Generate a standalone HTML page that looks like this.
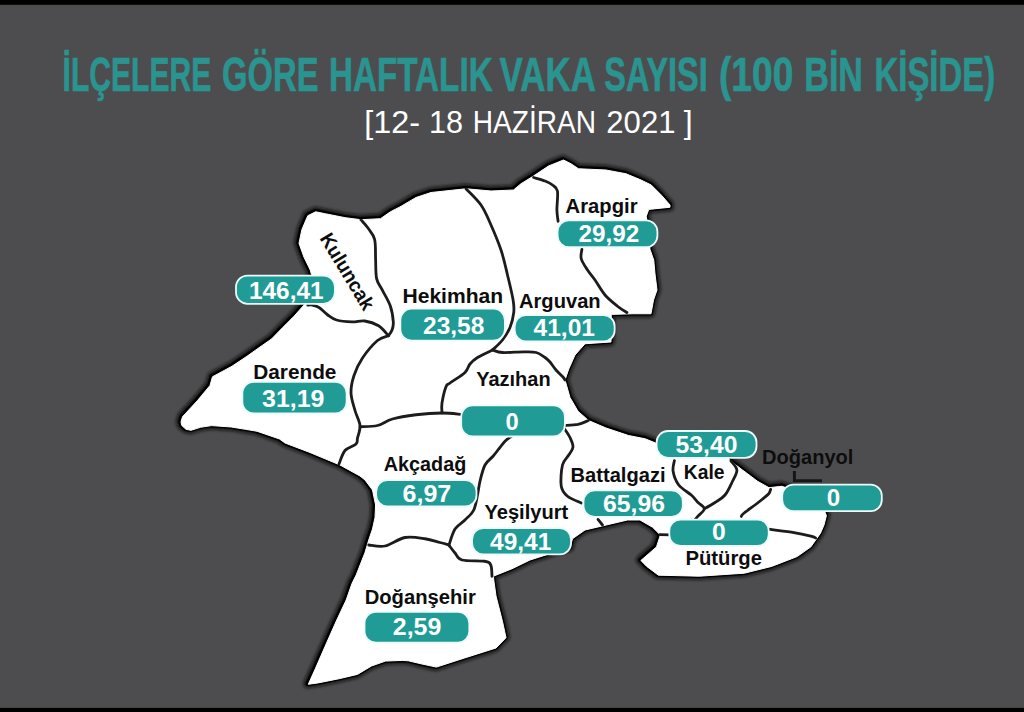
<!DOCTYPE html>
<html lang="tr"><head><meta charset="utf-8"><title>İlçelere Göre Haftalık Vaka Sayısı</title>
<style>
html,body{margin:0;padding:0;background:#4d4d4f;}
body{width:1024px;height:712px;overflow:hidden;}
svg{display:block;}
text{font-family:"Liberation Sans","DejaVu Sans",sans-serif;}
.lbl{font-weight:bold;fill:#0d0d0d;font-size:20.0px;}
.val{font-weight:bold;fill:#ffffff;font-size:24.2px;}
</style></head><body>
<svg width="1024" height="712" viewBox="0 0 1024 712">
<defs>
<filter id="sh" x="-5%" y="-5%" width="110%" height="110%"><feGaussianBlur stdDeviation="1.5"/></filter>
<filter id="sh2" x="-5%" y="-5%" width="110%" height="110%"><feGaussianBlur stdDeviation="0.6"/></filter>
</defs>
<rect x="0" y="0" width="1024" height="712" fill="#4d4d4f"/>
<rect x="0" y="0" width="1024" height="4.8" fill="#000000"/>
<rect x="0" y="707.9" width="1024" height="4.1" fill="#000000"/>

<g font-size="49.0" font-weight="bold" fill="#2a9490" stroke="#2a9490" stroke-width="0.7">
<text x="62.60" y="91.2" textLength="148.70" lengthAdjust="spacingAndGlyphs">İLÇELERE</text>
<text x="222.10" y="91.2" textLength="96.39" lengthAdjust="spacingAndGlyphs">GÖRE</text>
<text x="328.90" y="91.2" textLength="163.80" lengthAdjust="spacingAndGlyphs">HAFTALIK</text>
<text x="499.50" y="91.2" textLength="96.38" lengthAdjust="spacingAndGlyphs">VAKA</text>
<text x="604.30" y="91.2" textLength="103.47" lengthAdjust="spacingAndGlyphs">SAYISI</text>
<text x="718.90" y="91.2" textLength="74.46" lengthAdjust="spacingAndGlyphs">(100</text>
<text x="804.30" y="91.2" textLength="58.67" lengthAdjust="spacingAndGlyphs">BİN</text>
<text x="874.50" y="91.2" textLength="120.62" lengthAdjust="spacingAndGlyphs">KİŞİDE)</text>
</g>
<g font-size="30.5" fill="#ffffff">
<text x="364.20" y="133.1" textLength="55.74" lengthAdjust="spacingAndGlyphs">[12-</text>
<text x="429.00" y="133.1" textLength="34.07" lengthAdjust="spacingAndGlyphs">18</text>
<text x="472.75" y="133.1" textLength="123.23" lengthAdjust="spacingAndGlyphs">HAZİRAN</text>
<text x="606.30" y="133.1" textLength="69.19" lengthAdjust="spacingAndGlyphs">2021</text>
<text x="683.70" y="133.1" textLength="8.93" lengthAdjust="spacingAndGlyphs">]</text>
</g>
<path d="M315.7 211.8 L325.5 213.8 L345.2 217.7 L360.9 219.7 L380.5 218.7 L390.4 211.8 L400 206.9 L416 197.5 L431 192.5 L466 188.75 L491 191 L513.5 190 L521 183.75 L533.5 176 L548.5 166 L563.5 160 L571 163.75 L578.5 168.75 L606 170 L626 173.75 L641 180 L651.25 185 L661.25 195 L670 205 L670 207.25 L648.75 209.4 L646.25 216.25 L647 221 L650 249.4 L653.75 260 L655 274 L657 290 L653.5 300 L651 313.75 L633 313.75 L611.25 314.4 L611 342 L585 343.75 L575 355 L568.75 369 L565 380 L570 397.5 L578 411.25 L588.5 420.5 L606 428 L628.5 435.5 L645 438.75 L655.6 443 L660 447 L700 446 L728 458 L730 460.6 L742.5 470 L757.5 481.25 L769 487.7 L781.7 486.3 L800 492 L822 505 L826.4 515.6 L824 525 L820.5 533.2 L810.8 546.9 L797.1 556.6 L771.7 566.4 L744.4 573.2 L699.5 576.2 L658.4 575.2 L646.7 566.4 L640.9 560.5 L656.5 546.9 L660.4 535 L652.6 527.3 L640 520 L627.5 520 L606.25 525 L585 530 L572.5 538.75 L570 548 L552 553 L530 560 L512 568.75 L493.25 576.25 L496 596 L502.5 621.5 L506 637.75 L496 648 L464.5 658 L436.4 667.1 L422 664 L408.25 660.8 L402.4 660.4 L385.5 661.1 L371.5 666 L357.4 674.4 L339.2 678.7 L318.1 682.9 L308.3 684.3 L315.3 668.8 L325.1 646.3 L336.3 621 L346.2 600 L352 583.4 L356.2 575 L365 552.5 L368.75 540 L372.5 529 L375 517.5 L375.6 505 L372.5 490 L365 480 L360 476 L340 465 L310 452.5 L285 443 L279.5 439 L257 431.25 L245.4 429.3 L231.2 427 L211.5 425.6 L200.5 427.3 L191 430.3 L186 429.3 L181.8 425.5 L181 422 L182.5 416.75 L197.5 400.5 L210 385.5 L212.5 376.75 L232 366.25 L247 356.25 L255.75 350 L271.5 339 L282.75 327.5 L294 316.25 L304 305 L318 296 L318 280 L311.5 274.6 L310.25 270 L303.9 257 L299 243.3 L301.9 229.5 L307.8 215.7Z" fill="none" stroke="#101010" stroke-width="9" stroke-linejoin="round" filter="url(#sh)" opacity="0.8" transform="translate(-0.6,-0.6)"/>
<path d="M315.7 211.8 L325.5 213.8 L345.2 217.7 L360.9 219.7 L380.5 218.7 L390.4 211.8 L400 206.9 L416 197.5 L431 192.5 L466 188.75 L491 191 L513.5 190 L521 183.75 L533.5 176 L548.5 166 L563.5 160 L571 163.75 L578.5 168.75 L606 170 L626 173.75 L641 180 L651.25 185 L661.25 195 L670 205 L670 207.25 L648.75 209.4 L646.25 216.25 L647 221 L650 249.4 L653.75 260 L655 274 L657 290 L653.5 300 L651 313.75 L633 313.75 L611.25 314.4 L611 342 L585 343.75 L575 355 L568.75 369 L565 380 L570 397.5 L578 411.25 L588.5 420.5 L606 428 L628.5 435.5 L645 438.75 L655.6 443 L660 447 L700 446 L728 458 L730 460.6 L742.5 470 L757.5 481.25 L769 487.7 L781.7 486.3 L800 492 L822 505 L826.4 515.6 L824 525 L820.5 533.2 L810.8 546.9 L797.1 556.6 L771.7 566.4 L744.4 573.2 L699.5 576.2 L658.4 575.2 L646.7 566.4 L640.9 560.5 L656.5 546.9 L660.4 535 L652.6 527.3 L640 520 L627.5 520 L606.25 525 L585 530 L572.5 538.75 L570 548 L552 553 L530 560 L512 568.75 L493.25 576.25 L496 596 L502.5 621.5 L506 637.75 L496 648 L464.5 658 L436.4 667.1 L422 664 L408.25 660.8 L402.4 660.4 L385.5 661.1 L371.5 666 L357.4 674.4 L339.2 678.7 L318.1 682.9 L308.3 684.3 L315.3 668.8 L325.1 646.3 L336.3 621 L346.2 600 L352 583.4 L356.2 575 L365 552.5 L368.75 540 L372.5 529 L375 517.5 L375.6 505 L372.5 490 L365 480 L360 476 L340 465 L310 452.5 L285 443 L279.5 439 L257 431.25 L245.4 429.3 L231.2 427 L211.5 425.6 L200.5 427.3 L191 430.3 L186 429.3 L181.8 425.5 L181 422 L182.5 416.75 L197.5 400.5 L210 385.5 L212.5 376.75 L232 366.25 L247 356.25 L255.75 350 L271.5 339 L282.75 327.5 L294 316.25 L304 305 L318 296 L318 280 L311.5 274.6 L310.25 270 L303.9 257 L299 243.3 L301.9 229.5 L307.8 215.7Z" fill="none" stroke="#060606" stroke-width="4.6" stroke-linejoin="round" filter="url(#sh2)" transform="translate(-0.5,-0.5)"/>
<path d="M315.7 211.8 L325.5 213.8 L345.2 217.7 L360.9 219.7 L380.5 218.7 L390.4 211.8 L400 206.9 L416 197.5 L431 192.5 L466 188.75 L491 191 L513.5 190 L521 183.75 L533.5 176 L548.5 166 L563.5 160 L571 163.75 L578.5 168.75 L606 170 L626 173.75 L641 180 L651.25 185 L661.25 195 L670 205 L670 207.25 L648.75 209.4 L646.25 216.25 L647 221 L650 249.4 L653.75 260 L655 274 L657 290 L653.5 300 L651 313.75 L633 313.75 L611.25 314.4 L611 342 L585 343.75 L575 355 L568.75 369 L565 380 L570 397.5 L578 411.25 L588.5 420.5 L606 428 L628.5 435.5 L645 438.75 L655.6 443 L660 447 L700 446 L728 458 L730 460.6 L742.5 470 L757.5 481.25 L769 487.7 L781.7 486.3 L800 492 L822 505 L826.4 515.6 L824 525 L820.5 533.2 L810.8 546.9 L797.1 556.6 L771.7 566.4 L744.4 573.2 L699.5 576.2 L658.4 575.2 L646.7 566.4 L640.9 560.5 L656.5 546.9 L660.4 535 L652.6 527.3 L640 520 L627.5 520 L606.25 525 L585 530 L572.5 538.75 L570 548 L552 553 L530 560 L512 568.75 L493.25 576.25 L496 596 L502.5 621.5 L506 637.75 L496 648 L464.5 658 L436.4 667.1 L422 664 L408.25 660.8 L402.4 660.4 L385.5 661.1 L371.5 666 L357.4 674.4 L339.2 678.7 L318.1 682.9 L308.3 684.3 L315.3 668.8 L325.1 646.3 L336.3 621 L346.2 600 L352 583.4 L356.2 575 L365 552.5 L368.75 540 L372.5 529 L375 517.5 L375.6 505 L372.5 490 L365 480 L360 476 L340 465 L310 452.5 L285 443 L279.5 439 L257 431.25 L245.4 429.3 L231.2 427 L211.5 425.6 L200.5 427.3 L191 430.3 L186 429.3 L181.8 425.5 L181 422 L182.5 416.75 L197.5 400.5 L210 385.5 L212.5 376.75 L232 366.25 L247 356.25 L255.75 350 L271.5 339 L282.75 327.5 L294 316.25 L304 305 L318 296 L318 280 L311.5 274.6 L310.25 270 L303.9 257 L299 243.3 L301.9 229.5 L307.8 215.7Z" fill="#ffffff" stroke="#ffffff" stroke-width="1" stroke-linejoin="round"/>
<g fill="none" stroke="#1c1c1c" stroke-width="2.8" stroke-linecap="round" stroke-linejoin="round">
<path d="M360.9 219.7 C362.1 221.1 365.7 224.7 368 228 C370.3 231.3 373.3 234.1 374.6 239.3 C375.9 244.5 375.3 252.4 375.6 259 C375.9 265.6 375.5 273.4 376.6 278.6 C377.8 283.8 380.2 285.8 382.5 290.4 C384.8 295.0 388.6 300.9 390.4 306.2 C392.2 311.4 393.0 317.9 393.3 321.9 C393.6 325.9 392.8 327.7 392 330 C391.2 332.3 389.0 334.8 388.4 335.7"/>
<path d="M307.8 305.2 C308.4 305.2 309.6 304.6 311.5 305 C313.4 305.4 316.3 305.8 319 307.5 C321.7 309.2 324.8 312.9 327.75 315 C330.7 317.1 332.5 318.9 336.5 320 C340.5 321.1 347.3 321.7 352 321.9 C356.7 322.1 360.4 320.4 364.8 321 C369.2 321.6 374.7 323.4 378.6 325.8 C382.5 328.2 386.8 334.1 388.4 335.7"/>
<path d="M388.4 335.7 C386.6 336.5 381.8 336.8 377.5 340.5 C373.2 344.2 366.4 352.2 362.5 358 C358.6 363.8 355.9 369.7 354 375.5 C352.1 381.3 350.8 387.2 351 393 C351.2 398.8 353.5 405.1 355 410.5 C356.5 415.9 359.6 420.9 360 425.5 C360.4 430.1 358.2 434.9 357.5 438 C356.8 441.1 358.1 441.9 356 444 C353.9 446.1 347.8 447.2 345 450.5 C342.2 453.8 340.0 461.8 339 464"/>
<path d="M360 426.75 C362.9 426.5 372.1 426.8 377.5 425.5 C382.9 424.2 386.1 420.8 392.5 419 C398.9 417.2 407.8 415.8 416 414.75 C424.2 413.8 434.3 413.1 442 413 C449.7 412.9 458.7 414.2 462 414.4"/>
<path d="M466 188.75 C468.5 191.5 476.8 199.0 481 205 C485.2 211.0 487.7 217.5 491 225 C494.3 232.5 498.2 241.7 501 250 C503.8 258.3 505.5 266.7 507.5 275 C509.5 283.3 512.1 293.8 513.1 300 C514.1 306.2 514.3 307.9 513.75 312.5 C513.2 317.1 511.9 322.9 510 327.5 C508.1 332.1 505.4 336.2 502.5 340 C499.6 343.8 494.2 348.3 492.5 350"/>
<path d="M492.5 350 C490.0 351.2 481.2 355.2 477.5 357.5 C473.8 359.8 472.1 361.5 470 364 C467.9 366.5 468.3 369.3 465 372.5 C461.7 375.7 453.2 380.6 450 383 C446.8 385.4 447.3 383.4 446 386.75 C444.7 390.1 442.7 398.6 442 403 C441.3 407.4 442.0 411.3 442 413"/>
<path d="M492.5 350 C494.2 350.4 497.3 352.2 502.5 352.5 C507.7 352.8 518.1 351.9 523.75 351.9 C529.4 351.9 532.7 351.6 536.25 352.5 C539.8 353.4 542.7 355.9 545 357.5 C547.3 359.1 548.2 359.9 550 362 C551.8 364.1 553.8 367.5 556 370 C558.2 372.5 561.5 375.3 563 377 C564.5 378.7 564.7 379.5 565 380"/>
<path d="M533.5 177.5 C535.4 178.1 541.8 179.8 545 181 C548.2 182.2 550.4 183.3 552.5 185 C554.6 186.7 556.8 187.1 557.5 191.25 C558.2 195.4 556.8 205.0 556.9 210 C557.0 215.0 557.9 219.4 558.1 221.25"/>
<path d="M581.9 249.4 C581.8 251.0 580.3 255.3 581.25 258.75 C582.2 262.2 585.2 266.5 587.5 270 C589.8 273.5 592.1 275.8 595 280 C597.9 284.2 601.2 290.6 605 295 C608.8 299.4 613.9 303.3 617.5 306.25 C621.1 309.2 625.3 311.5 626.9 312.5"/>
<path d="M564 425.6 C566.3 425.4 573.9 425.2 578 424.4 C582.1 423.5 586.8 421.1 588.5 420.5"/>
<path d="M512.5 435.6 C511.2 436.5 507.3 439.0 505 441.25 C502.7 443.5 500.8 446.5 498.75 449 C496.8 451.5 495.3 453.6 493 456.25 C490.7 458.9 487.2 460.8 485 465 C482.8 469.2 481.2 476.2 480 481.25 C478.8 486.2 478.5 490.2 477.5 495 C476.5 499.8 475.8 505.8 473.75 510 C471.7 514.2 468.1 516.8 465 520 C461.9 523.2 457.7 524.8 455 529 C452.3 533.2 450.0 542.3 449 545"/>
<path d="M368.75 545 C371.5 545.2 379.0 547.2 385 546 C391.0 544.8 398.3 538.7 405 537.5 C411.7 536.3 419.2 537.9 425 538.75 C430.8 539.6 436.0 541.5 440 542.5 C444.0 543.5 447.3 544.6 448.75 545"/>
<path d="M448.75 545 C449.8 546.3 452.8 550.5 455 553 C457.2 555.5 457.1 558.6 462 560 C466.9 561.4 479.7 560.4 484.5 561.25 C489.3 562.1 489.5 562.5 490.75 565 C492.0 567.5 491.8 574.4 492 576.25"/>
<path d="M564 428 C565.0 429.6 568.5 434.3 570 437.5 C571.5 440.7 573.2 444.1 573 447 C572.8 449.9 570.5 452.0 568.75 455 C567.0 458.0 563.8 459.8 562.5 465 C561.2 470.2 560.4 481.0 561.25 486.25 C562.1 491.5 564.2 493.5 567.5 496.25 C570.8 499.0 579.0 501.9 581.25 503"/>
<path d="M598 519.4 L602.5 525"/>
<path d="M660 534.6 L670.2 534.8"/>
<path d="M674.4 460.6 C674.2 462.4 672.4 467.2 673.1 471.25 C673.8 475.3 675.7 481.0 678.75 485 C681.8 489.0 688.1 492.2 691.25 495 C694.4 497.8 695.3 499.7 697.5 502 C699.7 504.3 704.3 506.4 704.3 508.8 C704.3 511.2 699.2 514.6 697.5 516.6 C695.8 518.6 694.6 520.3 694 521"/>
<path d="M704.3 508.8 C706.1 507.8 711.5 504.8 715 502.5 C718.5 500.2 722.1 498.5 725 495 C727.9 491.5 730.5 485.4 732.5 481.25 C734.5 477.1 737.1 473.4 736.9 470 C736.6 466.6 732.0 462.5 731 461"/>
<path d="M741.3 516.5 C741.6 516.1 740.7 515.9 743 514 C745.3 512.1 751.8 507.4 755 505 C758.2 502.6 759.7 501.4 762 499.5 C764.3 497.6 767.3 495.4 768.75 493.75 C770.2 492.1 770.3 490.1 770.6 489.4"/>
<path d="M767.8 529 C771.7 529.5 784.1 531.0 791.25 532.2 C798.4 533.4 806.7 535.1 810.8 536.1 C814.9 537.1 814.9 537.7 815.7 538"/>
</g>
<path d="M794.4 471 L794.4 480.7 L822 480.7" fill="none" stroke="#161616" stroke-width="3"/>
<text class="lbl" x="565.60" y="212.75" textLength="71.92" lengthAdjust="spacingAndGlyphs">Arapgir</text>
<text class="lbl" x="402.50" y="302.5" textLength="100.59" lengthAdjust="spacingAndGlyphs">Hekimhan</text>
<text class="lbl" x="519.00" y="308.1" textLength="81.63" lengthAdjust="spacingAndGlyphs">Arguvan</text>
<text class="lbl" x="253.25" y="379.4" textLength="83.18" lengthAdjust="spacingAndGlyphs">Darende</text>
<text class="lbl" x="476.25" y="386.25" textLength="74.33" lengthAdjust="spacingAndGlyphs">Yazıhan</text>
<text class="lbl" x="383.75" y="471.25" textLength="82.47" lengthAdjust="spacingAndGlyphs">Akçadağ</text>
<text class="lbl" x="484.50" y="518.5" textLength="83.73" lengthAdjust="spacingAndGlyphs">Yeşilyurt</text>
<text class="lbl" x="570.60" y="481.9" textLength="94.97" lengthAdjust="spacingAndGlyphs">Battalgazi</text>
<text class="lbl" x="683.75" y="479.4" textLength="40.70" lengthAdjust="spacingAndGlyphs">Kale</text>
<text class="lbl" x="762.00" y="463.8" textLength="91.42" lengthAdjust="spacingAndGlyphs">Doğanyol</text>
<text class="lbl" x="685.40" y="565.4" textLength="76.56" lengthAdjust="spacingAndGlyphs">Pütürge</text>
<text class="lbl" x="364.70" y="603.8" textLength="111.07" lengthAdjust="spacingAndGlyphs">Doğanşehir</text>
<text class="lbl" transform="translate(319.2,238.3) rotate(58.8)" x="0.00" y="0" textLength="85.93" lengthAdjust="spacingAndGlyphs">Kuluncak</text>
<rect x="236.00" y="275.60" width="98.90" height="28.20" rx="11.5" ry="11.5" fill="#219b96" stroke="#ecfbfb" stroke-width="1.8"/>
<text class="val" x="249.00" y="298.75" textLength="74.57" lengthAdjust="spacingAndGlyphs">146,41</text>
<rect x="400.35" y="308.70" width="104.55" height="31.95" rx="11.5" ry="11.5" fill="#219b96" stroke="#ecfbfb" stroke-width="1.8"/>
<text class="val" x="423.10" y="333.5" textLength="61.24" lengthAdjust="spacingAndGlyphs">23,58</text>
<rect x="557.60" y="220.35" width="99.80" height="26.80" rx="11.3" ry="11.3" fill="#219b96" stroke="#ecfbfb" stroke-width="1.8"/>
<text class="val" x="578.50" y="241.9" textLength="60.84" lengthAdjust="spacingAndGlyphs">29,92</text>
<rect x="514.70" y="315.10" width="99.95" height="26.40" rx="11.1" ry="11.1" fill="#219b96" stroke="#ecfbfb" stroke-width="1.8"/>
<text class="val" x="533.50" y="336.25" textLength="61.44" lengthAdjust="spacingAndGlyphs">41,01</text>
<rect x="242.35" y="381.85" width="104.30" height="31.55" rx="11.5" ry="11.5" fill="#219b96" stroke="#ecfbfb" stroke-width="1.8"/>
<text class="val" x="262.00" y="406.9" textLength="62.44" lengthAdjust="spacingAndGlyphs">31,19</text>
<rect x="461.20" y="405.35" width="103.70" height="31.15" rx="11.5" ry="11.5" fill="#219b96" stroke="#ecfbfb" stroke-width="1.8"/>
<text class="val" x="505.60" y="430" textLength="13.18" lengthAdjust="spacingAndGlyphs">0</text>
<rect x="376.20" y="480.10" width="100.30" height="26.40" rx="11.1" ry="11.1" fill="#219b96" stroke="#ecfbfb" stroke-width="1.8"/>
<text class="val" x="402.50" y="501.9" textLength="48.78" lengthAdjust="spacingAndGlyphs">6,97</text>
<rect x="472.10" y="528.10" width="98.90" height="26.30" rx="11.1" ry="11.1" fill="#219b96" stroke="#ecfbfb" stroke-width="1.8"/>
<text class="val" x="490.10" y="549.75" textLength="61.24" lengthAdjust="spacingAndGlyphs">49,41</text>
<rect x="583.50" y="490.35" width="99.30" height="26.45" rx="11.1" ry="11.1" fill="#219b96" stroke="#ecfbfb" stroke-width="1.8"/>
<text class="val" x="603.10" y="512.25" textLength="61.84" lengthAdjust="spacingAndGlyphs">65,96</text>
<rect x="656.60" y="431.00" width="99.90" height="26.80" rx="11.3" ry="11.3" fill="#219b96" stroke="#ecfbfb" stroke-width="1.8"/>
<text class="val" x="675.60" y="453.1" textLength="61.84" lengthAdjust="spacingAndGlyphs">53,40</text>
<rect x="782.20" y="484.70" width="99.60" height="26.40" rx="11.1" ry="11.1" fill="#219b96" stroke="#ecfbfb" stroke-width="1.8"/>
<text class="val" x="826.70" y="506" textLength="13.43" lengthAdjust="spacingAndGlyphs">0</text>
<rect x="669.30" y="519.60" width="99.40" height="26.20" rx="11.0" ry="11.0" fill="#219b96" stroke="#ecfbfb" stroke-width="1.8"/>
<text class="val" x="712.10" y="540" textLength="13.73" lengthAdjust="spacingAndGlyphs">0</text>
<rect x="364.50" y="611.80" width="104.80" height="30.90" rx="11.5" ry="11.5" fill="#219b96" stroke="#ecfbfb" stroke-width="1.8"/>
<text class="val" x="392.80" y="634.8" textLength="48.53" lengthAdjust="spacingAndGlyphs">2,59</text>
</svg></body></html>
